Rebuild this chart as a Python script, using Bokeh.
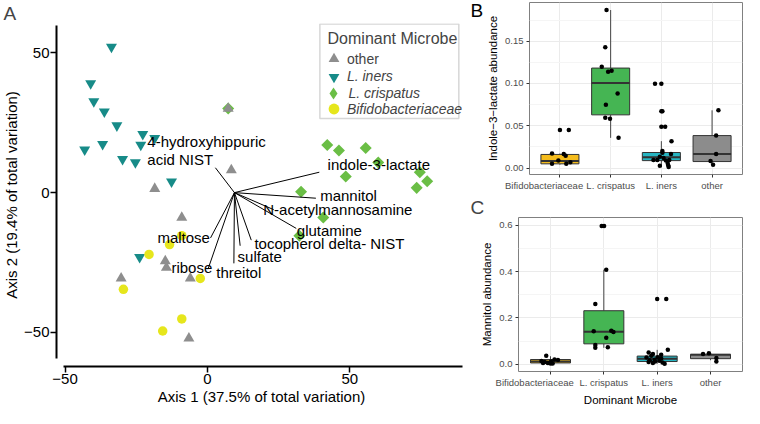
import math
from bokeh.plotting import figure
from bokeh.models import (Label, Legend, LegendItem, BoxAnnotation, FixedTicker,
                          Range1d, NumeralTickFormatter)
from bokeh.layouts import row, column
from bokeh.embed import file_html
from bokeh.resources import INLINE
from bokeh.core.properties import value

FONT = "Liberation Sans"

# ---------------- Panel A: ordination scores ----------------
other_x = [7.3, 8.4, -18.5, -9.0, -14.8, -14.4, -30.3, -6.0, -6.5]
other_y = [30.1, 8.1, 1.4, -8.9, -24.5, -26.8, -30.7, -30.7, -52.1]
iners_x = [-33.7, -41.0, -39.9, -36.2, -31.8, -22.7, -18.5, -23.4, -36.8, -43.1, -29.8, -25.3, -12.6, -23.8]
iners_y = [52.1, 39.1, 32.6, 29.0, 24.0, 20.9, 19.5, 17.1, 17.3, 15.4, 12.0, 10.8, 3.9, -23.1]
crisp_x = [7.3, 42.1, 46.2, 55.6, 60.0, 48.6, 74.6, 77.2, 73.5, 32.9, 40.7, 32.3]
crisp_y = [30.1, 17.0, 15.1, 16.0, 10.8, 5.8, 7.3, 4.1, 1.7, 0.3, -8.9, -15.4]
bifido_x = [-9.0, -13.3, -20.5, -2.5, -29.5, -9.0, -15.7]
bifido_y = [-15.4, -18.6, -22.1, -30.7, -34.6, -45.2, -49.5]

# biplot loadings (arrow ends) from common origin
load_names = ["4-hydroxyhippuric\nacid NIST", "indole-3-lactate", "mannitol",
              "N-acetylmannosamine", "glutamine", "tocopherol delta- NIST",
              "sulfate", "threitol", "maltose", "ribose"]
load_x = [2.8, 39.3, 38.1, 23.3, 31.2, 15.4, 11.5, 9.3, 1.1, 0.2]
load_y = [8.9, 7.3, -2.0, -6.1, -12.8, -17.0, -19.0, -25.3, -16.2, -27.4]
load_origin = [9.5, 0.0]

legend_labels = ["other", "L. iners", "L. crispatus", "Bifidobacteriaceae"]

# ---------------- Panels B and C: abundances ----------------
groups = ["Bifidobacteriaceae", "L. crispatus", "L. iners", "other"]

ind_q1 = [0.0050, 0.0629, 0.0088, 0.0077]
ind_med = [0.0084, 0.1005, 0.0127, 0.0165]
ind_q3 = [0.0161, 0.1182, 0.0184, 0.0384]
ind_lo = [0.0040, 0.0357, 0.0010, 0.0038]
ind_hi = [0.0173, 0.1868, 0.0318, 0.0683]
ind_grp = [1] * 9 + [2] * 10 + [3] * 20 + [4] * 5
ind_dx = [0.0, 0.175, -0.156, 0.075, 0.113, -0.031, -0.156, 0.125, 0.206,
          -0.081, -0.106, -0.175, -0.05, 0.019, 0.1375, -0.094, -0.106, -0.0125, 0.156,
          -0.125, 0.0, 0.0, 0.02, 0.0, 0.075, 0.2, 0.02, 0.02, -0.156, -0.08, -0.03, 0.044,
          0.156, 0.19, 0.125, 0.137, 0.144, -0.03, 0.09,
          0.125, 0.08, 0.08, -0.03, 0.02]
ind_y = [0.0449, 0.0449, 0.0173, 0.0165, 0.0146, 0.0088, 0.0050, 0.0050, 0.0069,
         0.1868, 0.1427, 0.1197, 0.1139, 0.1151, 0.0882, 0.0748, 0.0595, 0.0583, 0.0357,
         0.0997, 0.0997, 0.0671, 0.0671, 0.0487, 0.0487, 0.0318, 0.0203, 0.0180, 0.0096,
         0.0096, 0.0134, 0.0120, 0.0096, 0.0165, 0.0058, 0.0031, 0.0012, 0.0027, 0.0090,
         0.0683, 0.0384, 0.0165, 0.0084, 0.0038]

man_q1 = [0.0061, 0.0885, 0.0123, 0.0246]
man_med = [0.0123, 0.1402, 0.0246, 0.0418]
man_q3 = [0.0209, 0.2312, 0.0357, 0.0430]
man_lo = [0.0030, 0.0713, 0.0025, 0.0180]
man_hi = [0.0350, 0.4080, 0.0627, 0.0480]
man_grp = [1] * 10 + [2] * 11 + [3] * 18 + [4] * 4
man_dx = [-0.08, -0.17, -0.11, -0.05, 0.01, 0.075, 0.0, -0.14, 0.14, 0.04,
          -0.04, 0.005, 0.045, -0.16, -0.19, 0.14, 0.18, 0.045, -0.16, -0.16, 0.075,
          0.0, 0.17, 0.2, -0.16, -0.08, 0.075, -0.11, 0.01, -0.2, -0.14, -0.04, 0.04,
          0.1, -0.08, 0.14, 0.075, -0.05, -0.16,
          -0.14, -0.03, 0.11, 0.11]
man_y = [0.037, 0.0148, 0.0098, 0.006, 0.0123, 0.0209, 0.0037, 0.006, 0.0184, 0.0037,
         0.5963, 0.5963, 0.408, 0.2607, 0.1426, 0.1451, 0.139, 0.1143, 0.0836, 0.0713, 0.0738,
         0.2816, 0.2816, 0.0627, 0.0516, 0.045, 0.042, 0.037, 0.031, 0.030, 0.018, 0.012,
         0.016, 0.008, 0.006, 0.003, 0.025, 0.020, 0.010,
         0.0443, 0.048, 0.027, 0.0123]

# ---------------- styles / layout ----------------
C_OTHER = "#8E8E8E"
C_INERS = "#178B88"
C_CRISP = "#6ABE45"
C_BIFID = "#E6E61C"
BOX_COLORS = ["#F5BC1C", "#45B553", "#26B5C2", "#8C8C8C"]

# label placement for the loadings
lab_left_idx = [0, 1, 2, 3, 4, 5, 6, 7]
lab_left_pos = [(-21.1, 15.1), (42.2, 10.0), (39.6, -1.1), (19.6, -5.9), (31.4, -13.4),
                (16.5, -18.2), (10.6, -22.7), (3.1, -28.5)]
lab_right_idx = [8, 9]
lab_right_pos = [(0.9, -16.2), (1.7, -26.8)]

# panel A geometry
AX0, AX1 = -53.0, 91.0
AY0, AY1 = -62.2, 60.5
A_W, A_H = 468, 408
A_FL, A_FR, A_FT, A_FB = 55, 2, 22, 46        # expected frame borders
SX = (A_W - A_FL - A_FR) / (AX1 - AX0)
SY = (A_H - A_FT - A_FB) / (AY1 - AY0)


def fx(d):  # data x -> frame px from left
    return (d - AX0) * SX


def fy(d):  # data y -> frame px from bottom
    return (d - AY0) * SY


# ======== Panel A ========
pA = figure(width=A_W, height=A_H, output_backend="svg", toolbar_location=None,
            x_range=Range1d(AX0, AX1), y_range=Range1d(AY0, AY1),
            min_border_left=50, min_border_right=A_FR, min_border_top=0,
            min_border_bottom=42)
pA.title.text = "A"
pA.title.align = "left"
pA.title.offset = -(A_FL - 2)
pA.title.text_font = FONT
pA.title.text_font_size = "19px"
pA.title.text_font_style = "normal"
pA.title.standoff = 0
pA.outline_line_color = None
pA.grid.grid_line_color = None
pA.background_fill_color = "white"
pA.border_fill_color = "white"

r_crisp = pA.scatter(crisp_x, crisp_y, marker="square", angle=math.pi / 4, size=8.5,
                     fill_color=C_CRISP, line_color=None)
r_other = pA.scatter(other_x, other_y, marker="triangle", size=11,
                     fill_color=C_OTHER, line_color=None)
r_iners = pA.scatter(iners_x, iners_y, marker="inverted_triangle", size=11,
                     fill_color=C_INERS, line_color=None)
r_bifid = pA.scatter(bifido_x, bifido_y, marker="circle", size=9.5,
                     fill_color=C_BIFID, line_color=None)
# legend key for L. crispatus (the legend does not rotate squares, so a diamond key is used;
# its single point is NaN so nothing is drawn in the plot area)
r_crisp_key = pA.scatter(x=[float("nan")], y=[float("nan")], marker="diamond", size=12,
                         fill_color=C_CRISP, line_color=None)

pA.segment(x0=[load_origin[0]] * len(load_x), y0=[load_origin[1]] * len(load_y),
           x1=load_x, y1=load_y, line_color="black", line_width=1)

pA.text(x=[p[0] for p in lab_left_pos], y=[p[1] for p in lab_left_pos],
        text=[load_names[i] for i in lab_left_idx], text_font=value(FONT),
        text_font_size="15px", text_align="left", text_baseline="middle",
        text_line_height=1.1, text_color="black")
pA.text(x=[p[0] for p in lab_right_pos], y=[p[1] for p in lab_right_pos],
        text=[load_names[i] for i in lab_right_idx], text_font=value(FONT),
        text_font_size="15px", text_align="right", text_baseline="middle",
        text_color="black")

for ax in (pA.xaxis[0], pA.yaxis[0]):
    ax.ticker = FixedTicker(ticks=[-50, 0, 50])
    ax.axis_line_width = 2
    ax.axis_line_color = "black"
    ax.major_tick_line_width = 1.5
    ax.major_tick_line_color = "black"
    ax.major_tick_out = 6
    ax.major_tick_in = 0
    ax.minor_tick_line_color = None
    ax.major_label_text_font = FONT
    ax.major_label_text_font_size = "15px"
    ax.major_label_text_color = "black"
    ax.major_label_standoff = 1
    ax.axis_label_text_font = FONT
    ax.axis_label_text_font_size = "15px"
    ax.axis_label_text_font_style = "normal"
    ax.axis_label_text_color = "black"
    ax.axis_label_standoff = 1
pA.xaxis.bounds = (-50.5, 89.7)
pA.yaxis.bounds = (-59.5, 59.7)
pA.xaxis.axis_label = "Axis 1 (37.5% of total variation)"
pA.yaxis.axis_label = "Axis 2 (19.4% of total variation)"

# legend box, title and one legend per entry (so that entry spacing can follow the reference)
pA.add_layout(BoxAnnotation(left=39.5, right=88.3, bottom=26.5, top=60.3,
                            fill_color="white", fill_alpha=1.0,
                            line_color="#7A7A7A", line_width=1.5))
pA.add_layout(Label(x=42.2, y=55.0, text="Dominant Microbe", text_font=FONT,
                    text_font_size="16px", text_baseline="middle", text_align="left"))
leg_renderers = [r_other, r_iners, r_crisp_key, r_bifid]
leg_item_y = [48.6, 42.4, 36.5, 30.7]
leg_box = [27, 27, 30, 27]
for lab, rend, yy, gb in zip(legend_labels, leg_renderers, leg_item_y, leg_box):
    cx = fx(44.2)
    lg = Legend(items=[LegendItem(label=lab, renderers=[rend])],
                location=(cx - gb / 2, fy(yy) - gb / 2),
                glyph_width=gb, glyph_height=gb,
                label_standoff=int(round(fx(48.1) - (cx + gb / 2))),
                padding=0, margin=0, spacing=0,
                border_line_color=None, background_fill_alpha=0,
                label_text_font=FONT, label_text_font_size="14px", label_height=14,
                label_text_font_style="normal" if lab == "other" else "italic")
    pA.add_layout(lg)


# ======== Panels B / C ========
def box_panel(width, height, ylim, q1, med, q3, lo, hi, grp, dx, yv, ticks, minor, fmt,
              ylabel, xlabel, mbl, mbt, mbb):
    p = figure(width=width, height=height, output_backend="svg", toolbar_location=None,
               x_range=Range1d(0.4, 4.6), y_range=Range1d(*ylim),
               min_border_left=mbl, min_border_right=2, min_border_top=mbt,
               min_border_bottom=mbb)
    p.background_fill_color = "white"
    p.border_fill_color = "white"
    p.outline_line_color = "#808080"
    p.outline_line_width = 1
    p.xgrid.grid_line_color = "#EBEBEB"
    p.ygrid.grid_line_color = "#EBEBEB"
    p.ygrid.minor_grid_line_color = "#F5F5F5"
    xs = [1, 2, 3, 4]
    p.xaxis.ticker = FixedTicker(ticks=xs)
    # the first category name sits a little left of its tick, as in the reference
    names = [groups[0] + "\u00a0" * 12] + groups[1:]
    p.xaxis.major_label_overrides = {x: g for x, g in zip(xs, names)}
    p.yaxis.ticker = FixedTicker(ticks=ticks, minor_ticks=minor)
    p.yaxis.formatter = NumeralTickFormatter(format=fmt)
    for ax in (p.xaxis[0], p.yaxis[0]):
        ax.axis_line_color = None
        ax.major_tick_line_color = "#333333"
        ax.major_tick_out = 3
        ax.major_tick_in = 0
        ax.minor_tick_line_color = None
        ax.major_label_text_font = FONT
        ax.major_label_text_font_size = "9.5px"
        ax.major_label_text_color = "#4D4D4D"
        ax.major_label_standoff = 2
        ax.axis_label_text_font = FONT
        ax.axis_label_text_font_size = "11.5px"
        ax.axis_label_text_font_style = "normal"
        ax.axis_label_text_color = "black"
        ax.axis_label_standoff = 3
    p.yaxis.axis_label = ylabel
    if xlabel:
        p.xaxis.axis_label = xlabel

    p.segment(x0=xs, y0=q3, x1=xs, y1=hi, line_color="#444444", line_width=1)
    p.segment(x0=xs, y0=q1, x1=xs, y1=lo, line_color="#444444", line_width=1)
    p.vbar(x=xs, bottom=q1, top=q3, width=0.75, fill_color=BOX_COLORS,
           line_color="#333333", line_width=1)
    p.segment(x0=[x - 0.375 for x in xs], y0=med, x1=[x + 0.375 for x in xs], y1=med,
              line_color="#333333", line_width=2)
    p.scatter(x=[g + d for g, d in zip(grp, dx)], y=yv, size=4.5,
              fill_color="black", line_color=None)
    return p


pB = box_panel(260, 194, (-0.0076, 0.1957), ind_q1, ind_med, ind_q3, ind_lo, ind_hi,
               ind_grp, ind_dx, ind_y, [0, 0.05, 0.10, 0.15], [0.025, 0.075, 0.125, 0.175],
               "0.00", "Indole\u22123\u2212lactate abundance", None, 40, 2, 20)

# narrow strip that carries the panel letter "B" to the left of panel B
pBl = figure(width=16, height=194, output_backend="svg", toolbar_location=None,
             x_range=Range1d(0, 16), y_range=Range1d(0, 194),
             x_axis_location=None, y_axis_location=None,
             min_border_left=0, min_border_right=0, min_border_top=0, min_border_bottom=0)
pBl.outline_line_color = None
pBl.grid.grid_line_color = None
pBl.text(x=[2], y=[185], text=["B"], text_font=value(FONT), text_font_size="19px",
         text_baseline="middle", text_align="left", text_color="black")

pC = box_panel(276, 214, (-0.0307, 0.633), man_q1, man_med, man_q3, man_lo, man_hi,
               man_grp, man_dx, man_y, [0, 0.2, 0.4, 0.6], [0.1, 0.3, 0.5],
               "0.0", "Mannitol abundance", "Dominant Microbe", 50, 0, 31)
pC.title.text = "C"
pC.title.align = "left"
pC.title.offset = -48
pC.title.text_font = FONT
pC.title.text_font_size = "19px"
pC.title.text_font_style = "normal"
pC.title.standoff = 0

layout = row(pA, column(row(pBl, pB), pC))
open("out.html", "w").write(file_html(layout, INLINE))
